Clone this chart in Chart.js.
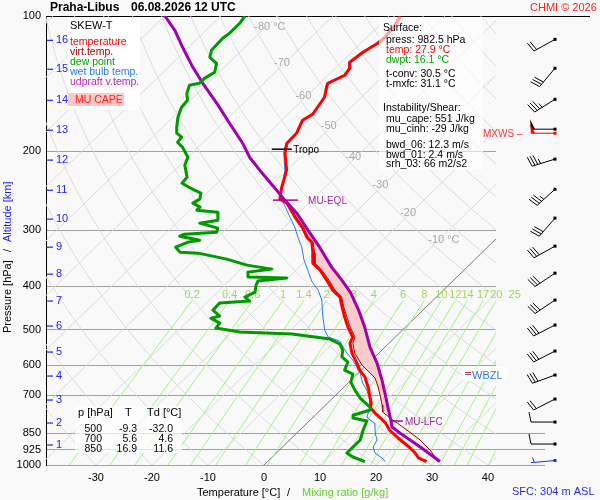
<!DOCTYPE html>
<html>
<head>
<meta charset="utf-8">
<title>Skew-T Praha-Libus</title>
<script src="https://cdn.jsdelivr.net/npm/chart.js@4.4.1/dist/chart.umd.min.js"></script>
<style>
html,body{margin:0;padding:0;background:#f9f9f9;}
canvas{display:block;}
</style>
</head>
<body>
<canvas id="skewt" width="600" height="500"></canvas>
<script>
// ================= DATA =================
const pressureTicks = [100,200,300,400,500,600,700,850,925,1000];
const tempTicks = [-30,-20,-10,0,10,20,30,40];

// temperature (red)
const tempP = [100,103.8,111.5,115.0,120.4,126.8,130.7,135.5,141.2,151.7,165.5,170.7,182.4,192.0,202.1,220.5,241.9,255.8,261.1,280.5,296.8,310.9,318.9,337.4,355.1,368.1,387.4,407.8,422.7,445.0,468.4,492.9,518.9,535.1,563.3,592.9,614.6,637.0,680.9,698.5,727.8,746.7,766.1,786.0,806.4,835.8,870.8,911.8,940.3,964.7,982.5];
const tempT = [-58.0,-57.3,-56.8,-57.0,-58.0,-58.5,-57.4,-57.0,-58.6,-56.6,-55.6,-56.3,-55.0,-54.9,-53.4,-50.0,-47.6,-45.9,-43.9,-39.9,-36.5,-34.1,-32.3,-30.1,-28.3,-25.7,-22.7,-19.8,-17.2,-15.0,-12.7,-10.3,-7.6,-7.0,-4.8,-2.1,-0.3,1.9,5.0,6.0,7.8,8.6,10.3,12.2,14.0,16.0,19.0,22.6,24.8,26.3,28.4];

// virtual temperature (dark red)
const virtP = [255.8,261.1,280.5,296.8,310.9,318.9,337.4,355.1,368.1,387.4,407.8,422.7,445.0,468.4,492.9,518.9,535.1,563.3,599.0,614.6,624.1,640.3,670.4,698.5,735.3,762.2,786.0,806.4,835.8,879.7,926.0,959.8,982.5];
const virtT = [-45.7,-43.7,-39.7,-36.3,-33.9,-32.1,-29.8,-27.9,-25.4,-22.3,-19.4,-16.9,-14.7,-12.3,-9.9,-7.2,-6.5,-4.3,-0.8,1.0,2.1,3.9,6.1,7.9,10.1,11.5,13.9,16.1,19.1,23.3,26.9,29.1,30.4];

// dew point (green)
const dewP = [100,103.8,109.3,112.1,119.2,123.6,127.5,133.4,137.7,141.2,142.7,148.7,154.1,159.7,168.1,176.9,182.4,186.2,191.0,196.0,206.3,214.9,228.5,235.7,243.1,248.1,255.8,261.1,266.5,270.7,273.5,284.9,289.3,296.8,303.0,306.1,309.3,315.7,318.9,327.2,335.7,337.4,347.9,358.8,366.2,371.9,381.5,383.3,389.4,397.5,412.0,422.7,431.4,435.9,451.9,466.0,470.8,483.0,495.5,505.7,511.0,524.2,537.8,554.7,574.5,589.8,614.6,627.3,653.6,680.9,709.4,742.9,754.4,774.0,786.0,798.1,835.8,879.7,911.8,940.3,959.8,982.5];
const dewT = [-85.7,-85.3,-85.3,-85.6,-85.4,-84.4,-82.1,-80.8,-81.5,-81.5,-82.9,-81.9,-80.5,-80.3,-79.1,-77.5,-76.4,-74.8,-74.6,-72.8,-70.0,-69.1,-66.5,-66.3,-63.3,-61.1,-60.2,-60.7,-58.7,-58.7,-54.6,-53.1,-55.8,-51.7,-51.1,-56.5,-57.0,-52.7,-54.4,-55.7,-54.0,-50.6,-44.4,-39.7,-34.5,-38.2,-37.3,-30.2,-34.8,-34.4,-33.3,-34.2,-32.6,-37.6,-37.5,-35.2,-36.4,-33.9,-33.7,-28.7,-19.0,-11.3,-8.6,-7.0,-5.9,-3.9,-3.0,-0.8,0.3,2.5,4.9,8.3,8.9,6.9,7.3,10.3,11.3,12.6,12.6,12.6,14.4,17.4];

// wet bulb temperature (blue)
const wetP = [100,103.8,111.5,115.0,120.4,126.8,130.7,135.5,141.2,151.7,165.5,170.7,182.4,192.0,202.1,220.5,235.7,250.7,261.1,280.5,295.3,310.9,327.2,349.7,368.1,389.4,407.8,429.2,463.6,500.6,518.9,529.6,546.2,563.3,583.8,605.2,624.1,656.9,680.9,709.4,742.9,781.9,794.0,806.4,848.7,879.7,911.8,940.3,964.7,982.5];
const wetT = [-58.2,-57.5,-57.0,-57.2,-58.2,-58.7,-57.6,-57.2,-58.8,-56.7,-55.8,-56.5,-55.1,-55.1,-53.6,-50.3,-48.3,-46.5,-44.5,-40.8,-38.1,-35.7,-33.2,-30.4,-27.9,-25.2,-22.4,-19.9,-17.0,-13.9,-12.0,-9.2,-7.5,-5.7,-3.4,-1.4,0.3,2.6,4.6,6.6,8.3,9.6,10.7,12.1,14.0,15.6,16.2,17.6,19.8,21.0];

// MU parcel updraft virtual temperature (purple)
const parcelP = [100,107.6,117.4,130.1,141.2,156.5,173.3,192.0,206.3,220.5,244.4,254.5,274.9,299.9,327.2,362.5,387.4,414.1,451.9,492.9,546.2,592.9,646.9,691.4,742.9,794.0,823.0,848.7,911.8,982.5];
const parcelT = [-100.0,-95.6,-91.1,-85.6,-80.9,-74.7,-68.8,-62.8,-59.0,-54.8,-48.1,-45.5,-40.3,-35.2,-30.0,-24.2,-20.0,-16.0,-11.5,-7.3,-2.7,1.5,5.5,8.4,11.5,14.4,15.9,18.4,24.6,30.8];

// altitude marks (km) and their pressures
const altKm = [1,2,3,4,5,6,7,8,9,10,11,12,13,14,15,16];
const altP  = [902.6,806.4,716.7,633.7,560.4,490.4,431.4,375.8,327.2,283.4,244.4,209.4,179.6,154.1,131.4,113.3];

// winds: surface + km levels
const windP   = [982.5,902.6,806.4,716.7,633.7,560.4,490.4,431.4,375.8,327.2,283.4,244.4,209.4,179.6,154.1,131.4,113.3];
const windDir = [265,270,270,243,250,243,243,236,236,241,221,228,253,270,238,220,241];
const windSpd = [3,10,10,20,30,30,30,30,30,30,30,35,35,50,35,30,20];
const mxwsP = 182.4, mxwsDir = 270, mxwsSpd = 50;

// levels
const tropoP = 198.0, tropoT = -54.0;
const eqlP = 257.1, eqlT = -44.7;
const lfcP = 798.0, lfcT = 14.6;
const wbzlP = 627.3;

// background diagram values
const isothermT = [-140,-130,-120,-110,-100,-90,-80,-70,-60,-50,-40,-30,-20,-10,0,10,20,30,40];
const isoLabelT = [-80,-70,-60,-50,-40,-30,-20,-10];
const isoLabelP = [106,127,151,176,206,238,274,315];
const thetaC = [-40,-30,-20,-10,0,10,20,30,40,50,60,70,80,90,100,110,120,130,140,150,160,170,180,190,200,210,220,230];
const mixRatios = [0.2,0.4,0.6,1,1.4,2,3,4,6,8,10,12,14,17,20,25,30,35,40,50];
const mixLabels = ["0.2","0.4","0.6","1","1.4","2","3","4","6","8","10","12","14","17","20","25"];
const mixTopP = 430, mixLabelP = 418.4;

// text blocks
const legendItems = ["temperature","virt.temp.","dew point","wet bulb temp.","udpraft v.temp."];
const infoLines = ["Surface:","press: 982.5 hPa","temp: 27.9 °C","dwpt: 16.1 °C","t-conv: 30.5 °C","t-mxfc: 31.1 °C","Instability/Shear:","mu_cape: 551 J/kg","mu_cinh: -29 J/kg","bwd_06: 12.3 m/s","bwd_01: 2.4 m/s","srh_03: 66 m2/s2"];
const tableP  = [500,700,850];
const tableT  = ["-9.3","5.6","16.9"];
const tableTd = ["-32.0","4.6","11.6"];

// ================= HELPERS =================
const FONT = "'Liberation Sans', Arial, Helvetica, sans-serif";
Chart.defaults.font.family = FONT;
const SKEW = 82.3;
function skewX(T, p){ return T + SKEW*Math.log10(1000/p); }
function toPoints(P, T){ return P.map((p,i)=>({x: skewX(T[i], p), y: p})); }
function dewFromMix(w, p){ const e = w*p/(622+w); const l = Math.log(e/6.112); return 243.5*l/(17.67-l); }

const capeP = parcelP.slice(11,26).concat(virtP.slice(0,27).reverse());
const capeT = parcelT.slice(11,26).concat(virtT.slice(0,27).reverse());

function txt(ctx, s, x, y, color, size, align, weight){
  ctx.font = (weight ? weight+' ' : '') + size + 'px ' + FONT;
  ctx.fillStyle = color; ctx.textAlign = align || 'left'; ctx.textBaseline = 'middle';
  ctx.fillText(s, x, y);
}
function al(v){ return Math.round(v - 0.5) + 0.5; }

function drawBarb(ctx, x0, y0, dir, spd, color){
  const r = dir*Math.PI/180, sx = Math.sin(r), sy = -Math.cos(r);
  const bx = -sy, by = sx;
  const L = 24, ex = x0 + sx*L, ey = y0 + sy*L;
  ctx.strokeStyle = color; ctx.fillStyle = color; ctx.lineWidth = 1;
  ctx.beginPath(); ctx.moveTo(x0, y0); ctx.lineTo(ex, ey); ctx.stroke();
  ctx.fillRect(x0-1.5, y0-1.5, 3, 3);
  let rem = Math.round(spd/5)*5, pos = 0;
  while(rem >= 50){
    const ax = ex - sx*pos, ay = ey - sy*pos;
    ctx.beginPath(); ctx.moveTo(ax, ay);
    ctx.lineTo(ax + bx*10 + sx*1, ay + by*10 + sy*1);
    ctx.lineTo(ax - sx*4, ay - sy*4); ctx.closePath(); ctx.fill();
    pos += 6; rem -= 50;
  }
  while(rem >= 10){
    const ax = ex - sx*pos, ay = ey - sy*pos;
    ctx.beginPath(); ctx.moveTo(ax, ay); ctx.lineTo(ax + bx*10 + sx*2, ay + by*10 + sy*2); ctx.stroke();
    pos += 3; rem -= 10;
  }
  if(rem >= 5){
    if(pos === 0) pos = 3;
    const ax = ex - sx*pos, ay = ey - sy*pos;
    ctx.beginPath(); ctx.moveTo(ax, ay); ctx.lineTo(ax + bx*5 + sx*1, ay + by*5 + sy*1); ctx.stroke();
  }
}

// ================= PLUGINS =================
const backgroundPlugin = {
  id: 'skewtBackground',
  beforeDatasetsDraw(chart){
    const {ctx, chartArea: a} = chart, xs = chart.scales.x, ys = chart.scales.y;
    const P = (T,p)=>[xs.getPixelForValue(skewX(T,p)), ys.getPixelForValue(p)];
    ctx.save();
    ctx.beginPath(); ctx.rect(a.left, a.top, a.right-a.left, a.bottom-a.top); ctx.clip();
    ctx.lineWidth = 1;
    // dry adiabats
    ctx.strokeStyle = '#dcdcdc';
    thetaC.forEach(th=>{
      ctx.beginPath();
      for(let k=0;k<=45;k++){
        const p = 1000*Math.pow(10,-k/45);
        const T = (th+273.15)*Math.pow(p/1000,0.2857)-273.15;
        const [x,y] = P(T,p); k ? ctx.lineTo(x,y) : ctx.moveTo(x,y);
      }
      ctx.stroke();
    });
    // isotherms
    isothermT.forEach(T=>{
      const [x1,y1] = P(T,1000), [x2,y2] = P(T,100);
      ctx.strokeStyle = T===0 ? '#7a7a7a' : '#dcdcdc';
      ctx.beginPath(); ctx.moveTo(x1,y1); ctx.lineTo(x2,y2); ctx.stroke();
    });
    // mixing ratio lines
    ctx.strokeStyle = '#aaf07e';
    mixRatios.forEach(w=>{
      ctx.beginPath();
      for(let k=0;k<=10;k++){
        const p = 1000*Math.pow(mixTopP/1000, k/10);
        const [x,y] = P(dewFromMix(w,p), p); k ? ctx.lineTo(x,y) : ctx.moveTo(x,y);
      }
      ctx.stroke();
    });
    ctx.restore();
    // mixing ratio labels
    mixLabels.forEach((s,i)=>{
      const x = xs.getPixelForValue(skewX(dewFromMix(mixRatios[i], mixTopP), mixTopP));
      txt(ctx, s, x, ys.getPixelForValue(mixLabelP), '#a4d45a', 11, 'center');
    });
    // isotherm labels
    isoLabelT.forEach((T,i)=>{
      const x = xs.getPixelForValue(skewX(T, isoLabelP[i])) - 3;
      const y = ys.getPixelForValue(isoLabelP[i]);
      ctx.font = '11px ' + FONT;
      const w = ctx.measureText(String(T)).width;
      const s = (T===-80 || T===-10) ? T + ' °C' : String(T);
      txt(ctx, s, x - w/2, y, '#a8a8a8', 11, 'left');
    });
  }
};

const overlayPlugin = {
  id: 'skewtOverlay',
  afterDraw(chart){
    const {ctx, chartArea: a} = chart, xs = chart.scales.x, ys = chart.scales.y;
    const px = (T,p)=>xs.getPixelForValue(skewX(T,p));
    ctx.save();
    // extended pressure lines
    ctx.lineWidth = 1;
    [850,925,1000].forEach(p=>{
      const y = al(ys.getPixelForValue(p));
      ctx.strokeStyle = '#a0a0a0'; ctx.beginPath(); ctx.moveTo(a.right, y); ctx.lineTo(545, y); ctx.stroke();
    });
    { const y = al(ys.getPixelForValue(100));
      ctx.strokeStyle = '#000'; ctx.beginPath(); ctx.moveTo(a.right, y); ctx.lineTo(590, y); ctx.stroke(); }

    // altitude labels
    altKm.forEach((km,i)=>{
      const y = ys.getPixelForValue(altP[i]);
      ctx.strokeStyle = '#2020ff'; ctx.lineWidth = 1.2;
      ctx.beginPath(); ctx.moveTo(a.left+1, y); ctx.lineTo(a.left+7, y); ctx.stroke();
      txt(ctx, String(km), a.left+10, y, '#2020ff', 11, 'left');
    });

    // Tropopause
    { const x = px(tropoT, tropoP), y = ys.getPixelForValue(tropoP);
      ctx.strokeStyle = '#000'; ctx.lineWidth = 1.5;
      ctx.beginPath(); ctx.moveTo(x-14, y); ctx.lineTo(x+6, y); ctx.stroke();
      txt(ctx, 'Tropo', x+7.5, y+1, '#000', 10, 'left'); }
    // MU-EQL
    { const x = px(eqlT, eqlP), y = ys.getPixelForValue(eqlP);
      ctx.strokeStyle = '#a000b0'; ctx.lineWidth = 1.5;
      ctx.beginPath(); ctx.moveTo(x-12.5, y); ctx.lineTo(x+12.5, y); ctx.stroke();
      txt(ctx, 'MU-EQL', x+22.5, y+1, '#9a309a', 10, 'left'); }
    // MU-LFC
    { const x = px(lfcT, lfcP), y = ys.getPixelForValue(lfcP);
      ctx.strokeStyle = '#a000b0'; ctx.lineWidth = 1.5;
      ctx.beginPath(); ctx.moveTo(x, y); ctx.lineTo(x+12, y); ctx.stroke();
      txt(ctx, 'MU-LFC', x+14, y+1, '#9a309a', 10, 'left'); }
    // WBZL
    { const y = ys.getPixelForValue(wbzlP);
      ctx.fillStyle = 'rgba(255,255,255,0.9)'; ctx.fillRect(463, y-7, 44, 14);
      ctx.lineWidth = 1;
      ctx.strokeStyle = '#ff2020'; ctx.beginPath(); ctx.moveTo(465, al(y-2)); ctx.lineTo(471, al(y-2)); ctx.stroke();
      ctx.strokeStyle = '#2b78f0'; ctx.beginPath(); ctx.moveTo(465, al(y)); ctx.lineTo(471, al(y)); ctx.stroke();
      txt(ctx, 'WBZL', 472, y+2, '#2b78f0', 11, 'left'); }

    // wind barbs
    windP.forEach((p,i)=>{
      const y = ys.getPixelForValue(p) - 1;
      drawBarb(ctx, 555, y, windDir[i], windSpd[i], i===0 ? '#1a2ee8' : '#000');
    });
    { const y = ys.getPixelForValue(mxwsP);
      drawBarb(ctx, 555, y, mxwsDir, mxwsSpd, '#ff0000');
      txt(ctx, 'MXWS –', 483, y+1, '#ff3030', 10, 'left'); }

    // legend box
    ctx.fillStyle = 'rgba(255,255,255,0.92)'; ctx.fillRect(68, 17, 72, 93);
    txt(ctx, 'SKEW-T', 70, 26, '#000', 11, 'left');
    const legColors = ['#ff0000','#a00000','#00a000','#2b78f0','#c020c0'];
    legendItems.forEach((s,i)=> txt(ctx, s, 70, 42 + i*10, legColors[i], 10.5, 'left'));
    ctx.fillStyle = '#ffc8c8'; ctx.fillRect(68, 93, 56, 13);
    txt(ctx, 'MU CAPE', 75, 100, '#ff2020', 10.5, 'left');

    // info box
    ctx.fillStyle = 'rgba(255,255,255,0.62)'; ctx.fillRect(379, 17, 104, 153);
    const infoY = [28,40,50,60,74,84,108,119,129,145,155,164];
    infoLines.forEach((s,i)=>{
      const head = (i===0 || i===6);
      const col = i===2 ? '#ff0000' : (i===3 ? '#00a000' : '#000');
      txt(ctx, s, head ? 383 : 386, infoY[i], col, 10.5, 'left');
    });

    // table box
    ctx.fillStyle = 'rgba(255,255,255,0.7)'; ctx.fillRect(75, 406, 107, 47);
    txt(ctx, 'p [hPa]', 78, 413, '#000', 11, 'left');
    txt(ctx, 'T', 125, 413, '#000', 11, 'left');
    txt(ctx, 'Td [°C]', 147, 413, '#000', 11, 'left');
    tableP.forEach((p,i)=>{
      const y = 429 + i*10;
      txt(ctx, String(p), 102, y, '#000', 10.5, 'right');
      txt(ctx, tableT[i], 137, y, '#000', 10.5, 'right');
      txt(ctx, tableTd[i], 173, y, '#000', 10.5, 'right');
    });

    // titles
    txt(ctx, 'Praha-Libus', 50, 8, '#000', 12, 'left', 'bold');
    txt(ctx, '06.08.2026 12 UTC', 131, 8, '#000', 12, 'left', 'bold');
    txt(ctx, 'CHMI © 2026', 530, 8, '#ff2020', 11, 'left');
    txt(ctx, 'Temperature [°C]', 197, 493, '#000', 11, 'left');
    txt(ctx, '/', 287, 493, '#000', 11, 'left');
    txt(ctx, 'Mixing ratio [g/kg]', 302, 493, '#66cc33', 11, 'left');
    txt(ctx, 'SFC: 304 m ASL', 512, 492, '#2a2ae0', 11, 'left');
    // vertical axis title
    ctx.translate(8, 333); ctx.rotate(-Math.PI/2);
    txt(ctx, 'Pressure [hPa]', 0, 0, '#000', 11, 'left');
    txt(ctx, '/', 81, 0, '#000', 11, 'left');
    txt(ctx, 'Altitude [km]', 91, 0, '#2020ff', 11, 'left');
    ctx.restore();
  }
};

// ================= CHART =================
const lineDs = (label, P, T, color, width, order)=>({
  label, data: toPoints(P, T), showLine: true, borderColor: color, borderWidth: width,
  pointRadius: 0, fill: false, tension: 0, borderJoinStyle: 'round', order
});

new Chart(document.getElementById('skewt'), {
  type: 'scatter',
  data: {
    datasets: [
      { label: 'MU CAPE', data: toPoints(capeP, capeT), showLine: true, fill: 'shape',
        backgroundColor: 'rgb(250,205,205)', borderColor: 'rgba(0,0,0,0)', borderWidth: 1,
        pointRadius: 0, tension: 0, order: 9 },
      lineDs('wet bulb temp.', wetP, wetT, '#2b78f0', 1, 7),
      lineDs('virt.temp.', virtP, virtT, '#a00000', 1, 6),
      lineDs('temperature', tempP, tempT, '#ff0000', 3, 5),
      lineDs('udpraft v.temp.', parcelP, parcelT, '#a000b0', 3, 4),
      lineDs('dew point', dewP, dewT, '#009900', 3, 3)
    ]
  },
  options: {
    responsive: false, animation: false, events: [],
    layout: { padding: { left: 0, right: 104, top: 16, bottom: 0 } },
    plugins: { legend: { display: false }, tooltip: { enabled: false }, title: { display: false } },
    scales: {
      x: {
        type: 'linear', min: -38.93, max: 41.43,
        afterBuildTicks: s => { s.ticks = tempTicks.map(v => ({ value: v })); },
        afterFit: s => { s.height = 35; },
        ticks: { color: '#000', font: { size: 11 }, padding: 6, maxRotation: 0, autoSkip: false, callback: v => String(v) },
        grid: { display: false, drawTicks: false },
        border: { display: false }
      },
      y: {
        type: 'logarithmic', reverse: true, min: 100, max: 1000,
        afterBuildTicks: s => { s.ticks = pressureTicks.map(v => ({ value: v })); },
        afterFit: s => { s.width = 46; },
        ticks: { color: '#000', font: { size: 11 }, padding: 5, autoSkip: false, callback: v => String(v) },
        grid: { color: c => (c.tick && c.tick.value === 100) ? '#000' : '#a0a0a0', drawTicks: false, lineWidth: 1 },
        border: { display: true, color: '#000', width: 1 }
      }
    }
  },
  plugins: [backgroundPlugin, overlayPlugin]
});
</script>
</body>
</html>
